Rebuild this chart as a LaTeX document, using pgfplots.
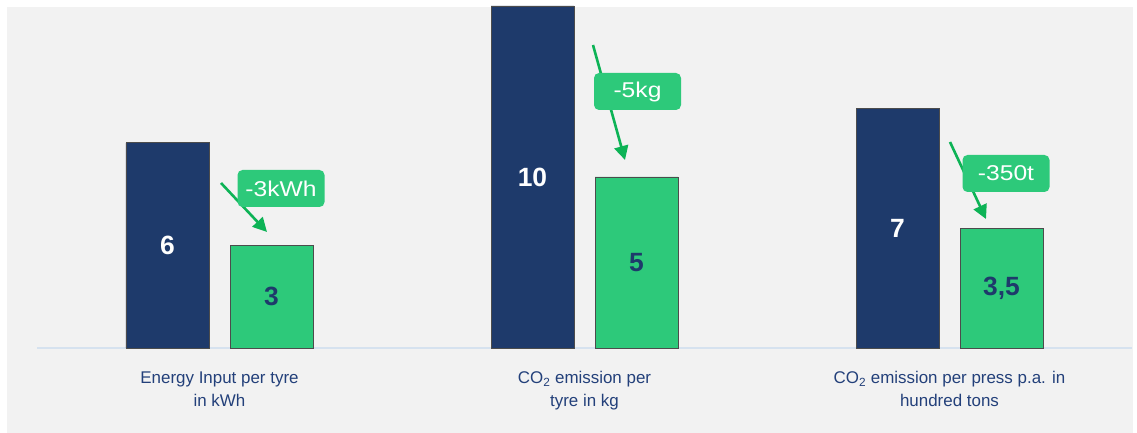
\documentclass[border=0pt]{standalone}
\usepackage{fontspec}
\setmainfont{Liberation Sans}
\newfontfamily\boxfont[FakeStretch=1.15]{Liberation Sans}
\usepackage{pgfplots}
\pgfplotsset{compat=1.18}
\usetikzlibrary{arrows.meta}

\definecolor{navybar}{HTML}{1E3A6B}
\definecolor{greenbar}{HTML}{2DC97A}
\definecolor{arrowgreen}{HTML}{0DB356}
\definecolor{panel}{HTML}{F2F2F2}
\definecolor{baselinecol}{HTML}{D6E2EF}
\definecolor{labeltext}{HTML}{23407A}

\begin{document}
\begin{tikzpicture}[x=1bp,y=1bp]
  % page and panel background
  \useasboundingbox (0,0) rectangle (1137,433);
  \fill[white] (0,0) rectangle (1137,433);
  \fill[panel] (7,0) rectangle (1133,426);

  \begin{axis}[
    at={(37bp,85bp)}, anchor=south west,
    scale only axis, width=1095bp, height=342bp,
    xmin=-0.5, xmax=2.5, ymin=0, ymax=10,
    clip=false,
    axis x line*=bottom, axis y line=none,
    x axis line style={draw=baselinecol, line width=1.2bp},
    ybar, bar width=83bp,
    xtick={0,1,2}, major tick length=0pt,
    xticklabels={
      {Energy Input per tyre\\in kWh},
      {CO\textsubscript{2} emission per\\tyre in kg},
      {CO\textsubscript{2} emission per press p.a. in\\hundred tons}},
    xticklabel style={align=center, text=labeltext,
      font=\fontsize{17}{23}\selectfont, yshift=-20bp},
    every axis plot/.append style={draw=black!70, line width=0.8bp},
    nodes near coords,
    point meta=explicit symbolic,
    visualization depends on={rawy \as \rawy},
    every node near coord/.append style={anchor=center,
      font=\fontsize{26.5}{30}\selectfont\bfseries,
      shift={(axis direction cs:0,-\rawy/2)}},
  ]
    % before
    \addplot[fill=navybar, bar shift=-52bp,
      every node near coord/.append style={text=white}]
      table[x=x, y=y, meta=lab] {
        x y  lab
        0 6  6
        1 10 10
        2 7  7
      };
    % after
    \addplot[fill=greenbar, bar shift=52bp,
      every node near coord/.append style={text=navybar}]
      table[x=x, y=y, meta=lab] {
        x y   lab
        0 3   3
        1 5   5
        2 3.5 3,5
      };
  \end{axis}

  % reduction arrows and call-outs
  \tikzset{red arrow/.style={arrowgreen, line width=2.6bp,
      -{Triangle[length=14bp,width=14bp]}},
    callout/.style={fill=greenbar, rounded corners=5bp, text=white,
      minimum width=87bp, minimum height=37bp, inner sep=0pt,
      font=\boxfont\fontsize{21.5}{24}\selectfont}}
  \draw[red arrow] (221,250) -- (267,201);
  \node[callout] at (281,244.5) {-3kWh};
  \draw[red arrow] (593,388) -- (625,273);
  \node[callout] at (637.5,341.5) {-5kg};
  \draw[red arrow] (950,291) -- (986,214);
  \node[callout] at (1006,259.5) {-350t};
\end{tikzpicture}
\end{document}
